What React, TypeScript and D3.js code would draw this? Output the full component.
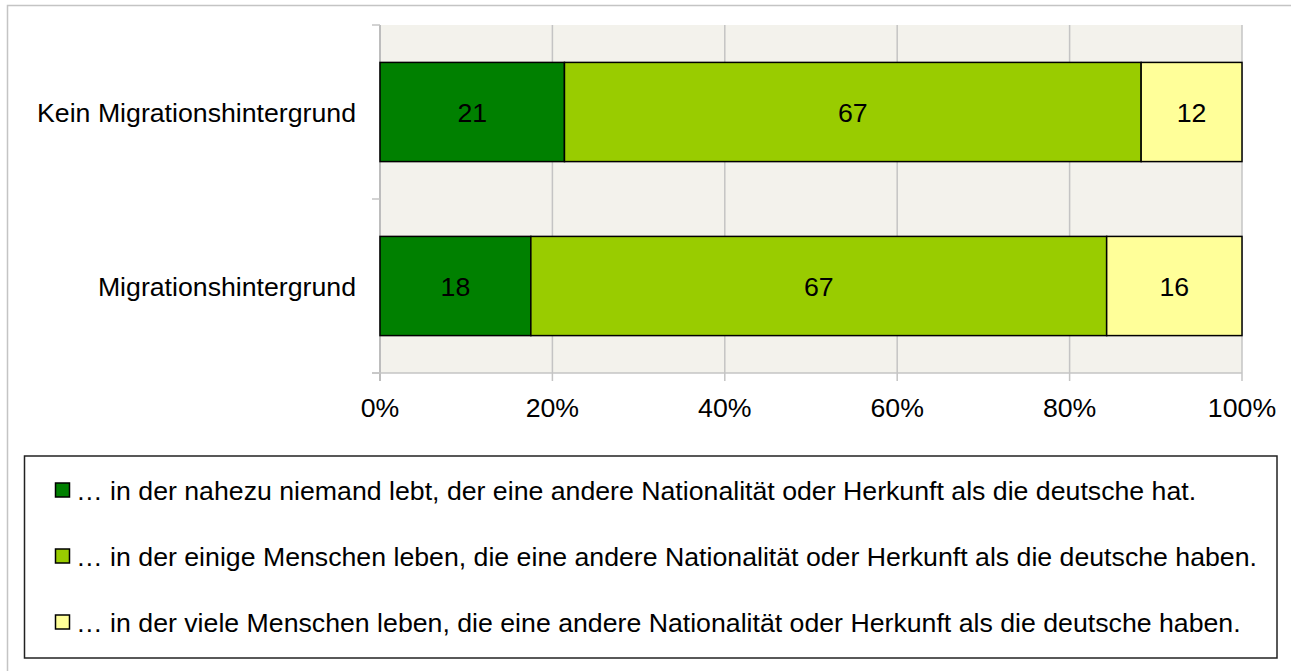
import React from "react";
import * as d3 from "d3";

const categories = ["Kein Migrationshintergrund", "Migrationshintergrund"];
const seriesNames = [
  "… in der nahezu niemand lebt, der eine andere Nationalität oder Herkunft als die deutsche hat.",
  "… in der einige Menschen leben, die eine andere Nationalität oder Herkunft als die deutsche haben.",
  "… in der viele Menschen leben, die eine andere Nationalität oder Herkunft als die deutsche haben.",
];
const niemand = [21.4, 17.5];
const einige = [66.9, 66.8];
const viele = [11.7, 15.7];
const barLabels = [
  ["21", "67", "12"],
  ["18", "67", "16"],
];
const xTicks = [0, 20, 40, 60, 80, 100];
const colors = ["#008000", "#99cc00", "#ffff99"];

const W = 1291;
const H = 671;
const FONT = "'Liberation Sans', Arial, Helvetica, sans-serif";
const FS = 26.7;

export default function App() {
  const x = d3.scaleLinear().domain([0, 100]).range([380, 1242]);
  const y = d3
    .scaleBand<string>()
    .domain(categories)
    .range([25, 373])
    .paddingInner(0.43)
    .paddingOuter(0.215);

  const rows = categories.map((c, i) => ({
    cat: c,
    niemand: niemand[i],
    einige: einige[i],
    viele: viele[i],
  }));
  const stack = d3.stack<any>().keys(["niemand", "einige", "viele"]);
  const series = stack(rows);

  const [y0, y1] = y.range();
  const step = y.step();
  const catBounds = [y0, y0 + step, y1];

  const legendY = [490, 556, 622];

  return (
    <svg
      width={W}
      height={H}
      style={{ position: "absolute", left: 0, top: 0, display: "block" }}
      fontFamily={FONT}
    >
      <rect x={0} y={0} width={W} height={H} fill="#fff" />
      <rect x={7.5} y={5.5} width={W + 10} height={H + 10} fill="none" stroke="#c4c4c4" strokeWidth={1.5} />
      {/* plot background */}
      <rect x={x(0)} y={y0} width={x(100) - x(0)} height={y1 - y0} fill="#f3f2ec" />
      {/* gridlines */}
      {xTicks.slice(1).map((t) => (
        <line key={t} x1={x(t)} x2={x(t)} y1={y0} y2={y1 + 8} stroke="#c4c4c4" strokeWidth={1.5} />
      ))}
      {/* axes */}
      <line x1={x(0)} x2={x(0)} y1={y0} y2={y1 + 8} stroke="#bdbdbd" strokeWidth={2} />
      <line x1={x(0) - 8} x2={x(100)} y1={y1} y2={y1} stroke="#c4c4c4" strokeWidth={1.5} />
      {catBounds.map((b, i) => (
        <line key={i} x1={x(0) - 8} x2={x(0)} y1={b} y2={b} stroke="#c4c4c4" strokeWidth={1.5} />
      ))}
      {/* bars */}
      {series.map((s, si) =>
        s.map((d, ci) => (
          <rect
            key={si + "-" + ci}
            x={x(d[0])}
            y={y(categories[ci])!}
            width={x(d[1]) - x(d[0])}
            height={y.bandwidth()}
            fill={colors[si]}
            stroke="#000"
            strokeWidth={1.5}
          />
        ))
      )}
      {series.map((s, si) =>
        s.map((d, ci) => (
          <text
            key={"l" + si + "-" + ci}
            x={(x(d[0]) + x(d[1])) / 2}
            y={y(categories[ci])! + y.bandwidth() / 2}
            dy="0.36em"
            textAnchor="middle"
            fontSize={FS}
            fill="#000"
          >
            {barLabels[ci][si]}
          </text>
        ))
      )}
      {/* category labels */}
      {categories.map((c) => (
        <text
          key={c}
          x={x(0) - 24}
          y={y(c)! + y.bandwidth() / 2}
          dy="0.36em"
          textAnchor="end"
          fontSize={FS}
          fill="#000"
        >
          {c}
        </text>
      ))}
      {/* x tick labels */}
      {xTicks.map((t) => (
        <text key={t} x={x(t)} y={417} textAnchor="middle" fontSize={FS} fill="#000">
          {t + "%"}
        </text>
      ))}
      {/* legend */}
      <rect x={24.5} y={456} width={1252.5} height={202} fill="#fff" stroke="#222" strokeWidth={1.5} />
      {seriesNames.map((n, i) => (
        <g key={n}>
          <rect
            x={55.5}
            y={legendY[i] - 7}
            width={14}
            height={14}
            fill={colors[i]}
            stroke="#000"
            strokeWidth={1.5}
          />
          <text x={76} y={legendY[i]} dy="0.36em" fontSize={FS} fill="#000">
            {n}
          </text>
        </g>
      ))}
    </svg>
  );
}
